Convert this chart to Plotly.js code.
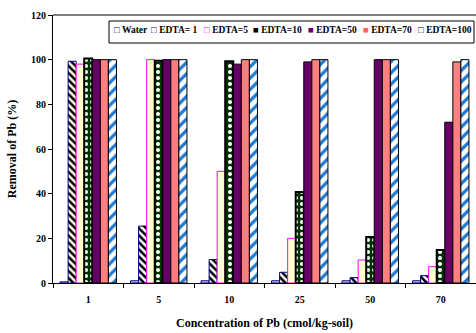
<!DOCTYPE html>
<html>
<head>
<meta charset="utf-8">
<script src="https://cdn.plot.ly/plotly-3.0.1.min.js"></script>
<style>html,body{margin:0;padding:0;background:#fff;}#chart{width:476px;height:333px;}</style>
</head>
<body>
<div id="chart"></div>
<script>
const categories = ['1', '5', '10', '25', '50', '70'];
const seriesNames = ['Water', 'EDTA= 1', 'EDTA=5', 'EDTA=10', 'EDTA=50', 'EDTA=70', 'EDTA=100'];
const water   = [0.5, 1, 1, 1, 1, 1];
const edta1   = [99.3, 25.5, 10.5, 4.8, 2.4, 3.3];
const edta5   = [98, 100, 50, 20, 10.3, 7.3];
const edta10  = [100.5, 99.5, 99.3, 40.8, 20.6, 14.8];
const edta50  = [100, 100, 98, 99, 100, 72];
const edta70  = [100, 100, 100, 100, 100, 99];
const edta100 = [100, 100, 100, 100, 100, 100];
const yTicks = [0, 20, 40, 60, 80, 100, 120];

const FONT = 'Liberation Serif, Times New Roman, serif';

const styles = [
  {color: '#ccccff', line: {color: '#000080', width: 1}},
  {color: '#ffffff', line: {color: '#000080', width: 1},
   pattern: {shape: '\\', fgcolor: '#000000', bgcolor: '#ffffff', size: 5, solidity: 0.5}},
  {color: '#ffffcc', line: {color: '#ff00ff', width: 1}},
  {color: '#003300', line: {color: '#000000', width: 2},
   pattern: {shape: '.', fgcolor: '#ffffff', bgcolor: '#003300', size: 6, solidity: 0.35}},
  {color: '#660066', line: {color: '#000000', width: 1}},
  {color: '#ff8080', line: {color: '#000000', width: 1}},
  {color: '#ffffff', line: {color: '#000000', width: 1},
   pattern: {shape: '/', fgcolor: '#1f7ad6', bgcolor: '#ffffff', size: 8, solidity: 0.4}}
];
const values = [water, edta1, edta5, edta10, edta50, edta70, edta100];

const traces = seriesNames.map((n, i) => ({
  type: 'bar', name: n, x: categories, y: values[i], marker: styles[i],
  showlegend: false
}));

// custom legend (symbols + names)
const legSym = ['□', '□', '□', '■', '■', '■', '□'];
const legSymColor = ['#000080', '#000080', '#ff00ff', '#000000', '#660066', '#ff6060', '#000000'];
const legPx = [111.5, 149, 201.5, 250.5, 306, 361, 416];
const plotL = 53, plotW = 423, plotT = 15, plotH = 268;
const annotations = seriesNames.map((n, i) => ({
  xref: 'paper', yref: 'paper',
  x: (legPx[i] - plotL) / plotW, y: 1 - (30 - plotT) / plotH,
  xanchor: 'left', yanchor: 'middle', showarrow: false,
  text: '<span style="color:' + legSymColor[i] + '">' + legSym[i] + '</span> ' + n,
  font: {family: FONT, size: 9.5, color: '#000', weight: 'bold'}
}));

const layout = {
  width: 476, height: 333,
  margin: {l: 53, r: 0, t: 15, b: 50},
  paper_bgcolor: '#ffffff', plot_bgcolor: '#ffffff',
  barmode: 'group', bargap: 0.2, bargroupgap: 0,
  font: {family: FONT, size: 10, color: '#000'},
  xaxis: {
    type: 'category', tickson: 'boundaries', ticks: 'outside', ticklen: 4,
    tickcolor: '#000', showline: true, linecolor: '#000', linewidth: 1,
    showgrid: false, ticklabelstandoff: 7,
    tickfont: {family: FONT, size: 10, weight: 'bold'},
    title: {text: 'Concentration of Pb (cmol/kg-soil)', font: {family: FONT, size: 12, weight: 'bold'}, standoff: 14}
  },
  yaxis: {
    range: [0, 120], tickvals: yTicks, ticks: 'outside', ticklen: 4,
    tickcolor: '#000', showline: true, linecolor: '#000', linewidth: 1,
    showgrid: false, zeroline: false,
    tickfont: {family: FONT, size: 10, weight: 'bold'},
    title: {text: 'Removal of Pb (%)', font: {family: FONT, size: 12, weight: 'bold'}, standoff: 11}
  },
  shapes: [
    {type: 'line', xref: 'paper', yref: 'paper', x0: 0, x1: 1, y0: 1, y1: 1, line: {color: '#555', width: 1.5}},
    {type: 'rect', xref: 'paper', yref: 'paper',
     x0: (109 - plotL) / plotW, x1: (474 - plotL) / plotW,
     y0: 1 - (43 - plotT) / plotH, y1: 1 - (21 - plotT) / plotH,
     line: {color: '#000', width: 1}, fillcolor: '#ffffff'}
  ],
  annotations: annotations
};

Plotly.newPlot('chart', traces, layout, {displayModeBar: false, staticPlot: true});
</script>
</body>
</html>
